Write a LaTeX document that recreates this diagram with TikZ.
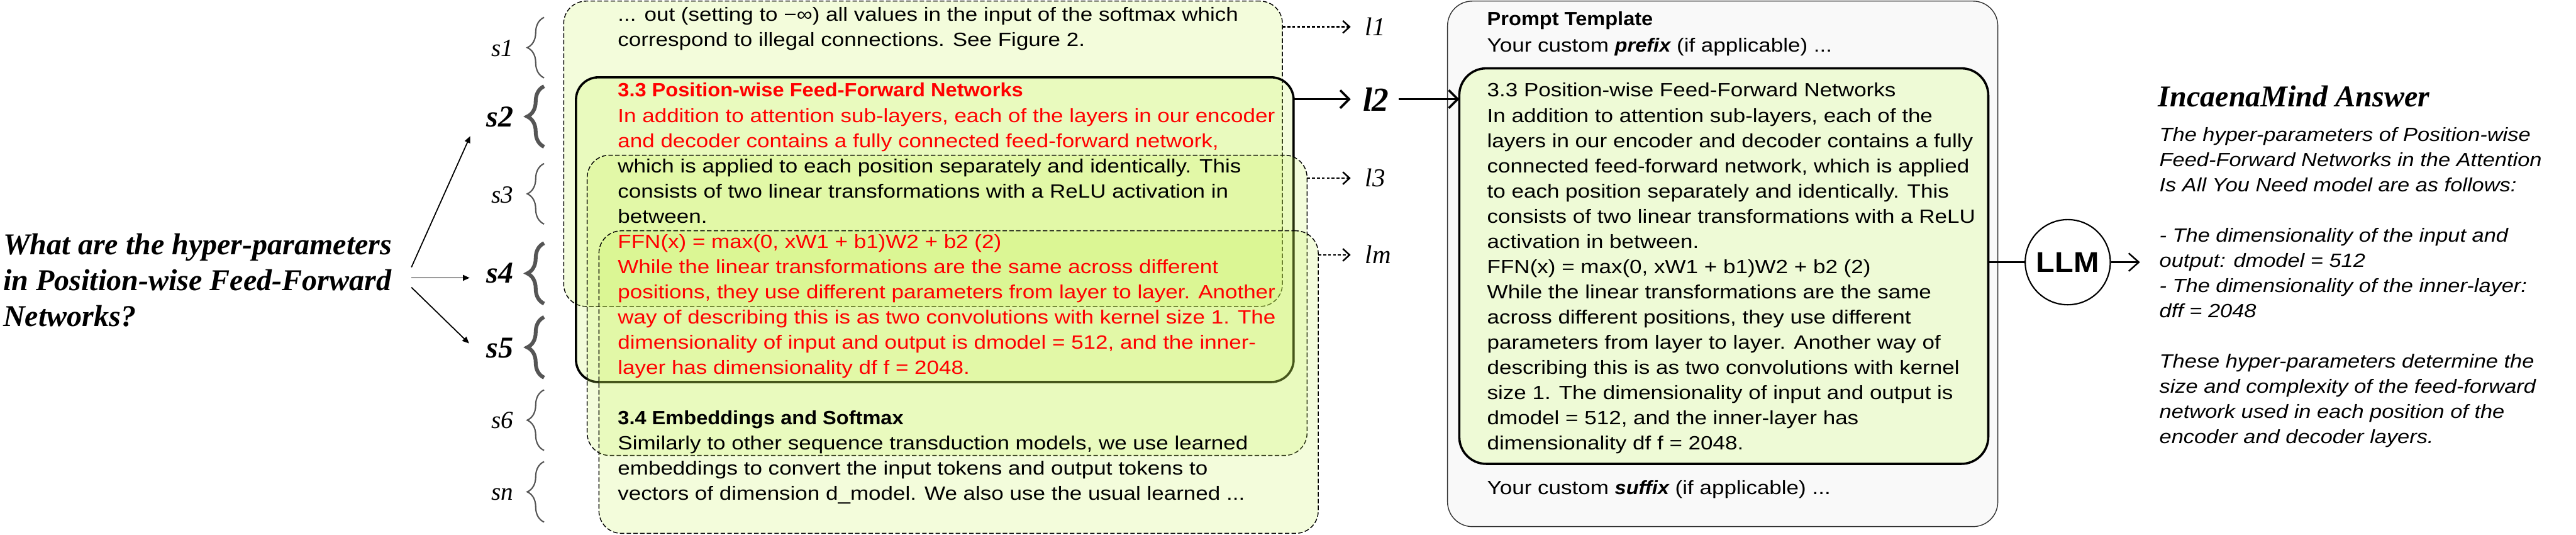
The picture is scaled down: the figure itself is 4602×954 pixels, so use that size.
\documentclass[tikz,border=0pt]{standalone}
\usepackage{fontspec}
\setmainfont{Liberation Serif}
\newfontfamily\sansf[FakeStretch=1.15]{Liberation Sans}
\newfontfamily\sansbf[FakeStretch=1.07]{Liberation Sans}
\newfontfamily\sansit[FakeStretch=1.13]{Liberation Sans}
\usetikzlibrary{arrows.meta,decorations.pathreplacing}
\definecolor{boxfill}{RGB}{195,240,75}
\definecolor{innerfill}{RGB}{238,250,214}
\definecolor{outerfill}{RGB}{249,249,249}
\definecolor{bracegray}{RGB}{85,85,85}
\newcommand\bodyfont{\sansf\fontsize{8.55pt}{11pt}\selectfont}
\newcommand\boldfont{\sansbf\fontsize{8.55pt}{11pt}\selectfont\bfseries}
\newcommand\emw[1]{{\sansbf\bfseries\itshape #1}}
\tikzset{
  ln/.style={anchor=base west, inner sep=0pt, font=\bodyfont},
  rl/.style={ln, text=red},
  chunk/.style={draw=black, line width=0.4pt, dash pattern=on 2pt off 1pt, fill=boxfill, fill opacity=0.2, draw opacity=1, rounded corners=10pt, anchor=north west, inner sep=0pt, outer sep=0pt},
  chosen/.style={chunk, solid, line width=1pt},
  bthin/.style={draw=bracegray, line width=0.6pt, decorate, decoration={brace, amplitude=7.5pt}},
  bthick/.style={draw=bracegray, line width=1.7pt, decorate, decoration={brace, amplitude=7.5pt}},
  slab/.style={anchor=base east, inner sep=0pt, font=\fontsize{11pt}{13pt}\selectfont\itshape},
  sbold/.style={anchor=base east, inner sep=0pt, font=\fontsize{13.5pt}{16pt}\selectfont\bfseries\itshape},
  llab/.style={anchor=base west, inner sep=0pt, font=\fontsize{11.5pt}{13pt}\selectfont\itshape},
  dotarrow/.style={line width=0.7pt, dash pattern=on 1.3pt off 0.9pt, -{Straight Barb[length=3pt,width=5.5pt,line width=0.7pt]}},
  qarrow/.style={line width=0.5pt, -{Triangle[length=3pt,width=2.6pt]}},
  solidarrow/.style={line width=1pt, -{Straight Barb[length=4pt,width=8pt]}},
  qfont/.style={anchor=base west, inner sep=0pt, font=\fontsize{13.5pt}{16pt}\selectfont\bfseries\itshape},
  ans/.style={anchor=base west, inner sep=0pt, font=\sansit\fontsize{8.55pt}{11pt}\selectfont\itshape},
}
\begin{document}
\begin{tikzpicture}[x=0.25pt,y=-0.25pt]
\useasboundingbox (0,0) rectangle (4602,954);

% ---- retrieved chunks ----
\node[chunk, minimum width=321pt, minimum height=136.25pt] (A) at (1007,2) {};
\node[chosen, minimum width=320.5pt, minimum height=136pt] (B) at (1029,138) {};
\node[chunk, minimum width=321.5pt, minimum height=134pt] (C) at (1049,277) {};
\node[chunk, minimum width=321.25pt, minimum height=135pt] (D) at (1070,412) {};

% ---- chunk text ----
\node[ln] (a1) at (1103,38) {... out (setting to −∞) all values in the input of the softmax which};
\node[ln] (a2) at (1103,83) {correspond to illegal connections. See Figure 2.};
\node[rl, font=\boldfont] (a4) at (1103,173) {3.3 Position-wise Feed-Forward Networks};
\node[rl] (a5) at (1103,218) {In addition to attention sub-layers, each of the layers in our encoder};
\node[rl] (a6) at (1103,263) {and decoder contains a fully connected feed-forward network,};
\node[ln] (a7) at (1103,308) {which is applied to each position separately and identically. This};
\node[ln] (a8) at (1103,353) {consists of two linear transformations with a ReLU activation in};
\node[ln] (a9) at (1103,398) {between.};
\node[rl] (a10) at (1103,443) {FFN(x) = max(0, xW1 + b1)W2 + b2 (2)};
\node[rl] (a11) at (1103,488) {While the linear transformations are the same across different};
\node[rl] (a12) at (1103,533) {positions, they use different parameters from layer to layer. Another};
\node[rl] (a13) at (1103,578) {way of describing this is as two convolutions with kernel size 1. The};
\node[rl] (a14) at (1103,623) {dimensionality of input and output is dmodel = 512, and the inner-};
\node[rl] (a15) at (1103,668) {layer has dimensionality df f = 2048.};
\node[ln, font=\boldfont] (a17) at (1103,758) {3.4 Embeddings and Softmax};
\node[ln] (a18) at (1103,803) {Similarly to other sequence transduction models, we use learned};
\node[ln] (a19) at (1103,848) {embeddings to convert the input tokens and output tokens to};
\node[ln] (a20) at (1103,893) {vectors of dimension d\_model. We also use the usual learned ...};

% ---- question ----
\node[qfont] (q1) at (5,455) {What are the hyper-parameters};
\node[qfont] (q2) at (5,518) {in Position-wise Feed-Forward};
\node[qfont] (q3) at (5,582) {Networks?};

% ---- segment labels and braces ----
\node[slab]  (s1) at (918,100) {s1};
\node[sbold] (s2) at (918,226) {s2};
\node[slab]  (s3) at (918,362) {s3};
\node[sbold] (s4) at (918,505) {s4};
\node[sbold] (s5) at (918,639) {s5};
\node[slab]  (s6) at (918,765) {s6};
\node[slab]  (sn) at (918,893) {sn};
\draw[bthin]  (972,139) -- (972,31);
\draw[bthick] (972,262) -- (972,154);
\draw[bthin]  (972,400) -- (972,292);
\draw[bthick] (972,542) -- (972,434);
\draw[bthick] (972,674) -- (972,566);
\draw[bthin]  (972,804) -- (972,696);
\draw[bthin]  (972,932) -- (972,824);

\coordinate (qa1) at (735,477);
\coordinate (qa2) at (735,496);
\coordinate (qa3) at (735,513);
\coordinate (ta1) at (840,243);
\coordinate (ta2) at (839,496);
\coordinate (ta3) at (838,613);
\draw[qarrow] (qa1) -- (ta1);
\draw[qarrow] (qa2) -- (ta2);
\draw[qarrow] (qa3) -- (ta3);

% ---- chunk outputs ----
\coordinate (t1) at (2413,48);
\coordinate (t2) at (2413,177);
\coordinate (t3) at (2413,318);
\coordinate (t4) at (2413,455);
\draw[dotarrow] (A.east |- t1) -- (t1);
\draw[solidarrow] (B.east |- t2) -- (t2);
\draw[dotarrow] (C.east |- t3) -- (t3);
\draw[dotarrow] (D.east |- t4) -- (t4);
\node[llab] (l1) at (2438,63) {l1};
\node[llab, font=\fontsize{15pt}{17pt}\selectfont\bfseries\itshape] (l2) at (2434,198) {l2};
\node[llab] (l3) at (2438,333) {l3};
\node[llab] (lm) at (2438,470) {lm};

% ---- prompt template ----
\node[draw=black!80, line width=0.4pt, fill=outerfill, rounded corners=11pt, anchor=north west, inner sep=0pt, outer sep=0pt, minimum width=245.75pt, minimum height=234.5pt] (T) at (2586,2) {};
\node[draw=black, line width=1pt, fill=innerfill, rounded corners=12pt, anchor=north west, inner sep=0pt, outer sep=0pt, minimum width=236.25pt, minimum height=176.5pt] (I) at (2607,122) {};
\coordinate (u2) at (2499,177);
\draw[solidarrow] (u2) -- (I.west |- u2);

\node[ln, font=\boldfont] (p1) at (2656,46) {Prompt Template};
\node[ln] (p2) at (2656,93) {Your custom \emw{prefix} (if applicable) ...};
\node[ln] (i0) at (2656,173) {3.3 Position-wise Feed-Forward Networks};
\node[ln] (i1) at (2656,218) {In addition to attention sub-layers, each of the};
\node[ln] (i2) at (2656,263) {layers in our encoder and decoder contains a fully};
\node[ln] (i3) at (2656,308) {connected feed-forward network, which is applied};
\node[ln] (i4) at (2656,353) {to each position separately and identically. This};
\node[ln] (i5) at (2656,398) {consists of two linear transformations with a ReLU};
\node[ln] (i6) at (2656,443) {activation in between.};
\node[ln] (i7) at (2656,488) {FFN(x) = max(0, xW1 + b1)W2 + b2 (2)};
\node[ln] (i8) at (2656,533) {While the linear transformations are the same};
\node[ln] (i9) at (2656,578) {across different positions, they use different};
\node[ln] (i10) at (2656,623) {parameters from layer to layer. Another way of};
\node[ln] (i11) at (2656,668) {describing this is as two convolutions with kernel};
\node[ln] (i12) at (2656,713) {size 1. The dimensionality of input and output is};
\node[ln] (i13) at (2656,758) {dmodel = 512, and the inner-layer has};
\node[ln] (i14) at (2656,803) {dimensionality df f = 2048.};
\node[ln] (p3) at (2656,883) {Your custom \emw{suffix} (if applicable) ...};

% ---- LLM ----
\node[circle, draw, line width=0.6pt, fill=white, minimum size=38pt, inner sep=0pt, font=\sansbf\fontsize{12.75pt}{14pt}\selectfont\bfseries] (llm) at (3694,468) {LLM};
\draw[line width=1pt] (I.east |- llm.west) -- (llm.west);
\coordinate (t5) at (3823,468);
\draw[line width=0.7pt, -{Straight Barb[length=4.5pt,width=8pt]}] (llm.east) -- (t5);

% ---- answer ----
\node[anchor=base west, inner sep=0pt, font=\fontsize{13.5pt}{16pt}\selectfont\bfseries\itshape] (ttl) at (3855,190) {IncaenaMind Answer};
\node[ans] (r1) at (3857,252) {The hyper-parameters of Position-wise};
\node[ans] (r2) at (3857,297) {Feed-Forward Networks in the Attention};
\node[ans] (r3) at (3857,342) {Is All You Need model are as follows:};
\node[ans] (r4) at (3857,432) {- The dimensionality of the input and};
\node[ans] (r5) at (3857,477) {output: dmodel = 512};
\node[ans] (r6) at (3857,522) {- The dimensionality of the inner-layer:};
\node[ans] (r7) at (3857,567) {dff = 2048};
\node[ans] (r8) at (3857,657) {These hyper-parameters determine the};
\node[ans] (r9) at (3857,702) {size and complexity of the feed-forward};
\node[ans] (r10) at (3857,747) {network used in each position of the};
\node[ans] (r11) at (3857,792) {encoder and decoder layers.};
\end{tikzpicture}
\end{document}
